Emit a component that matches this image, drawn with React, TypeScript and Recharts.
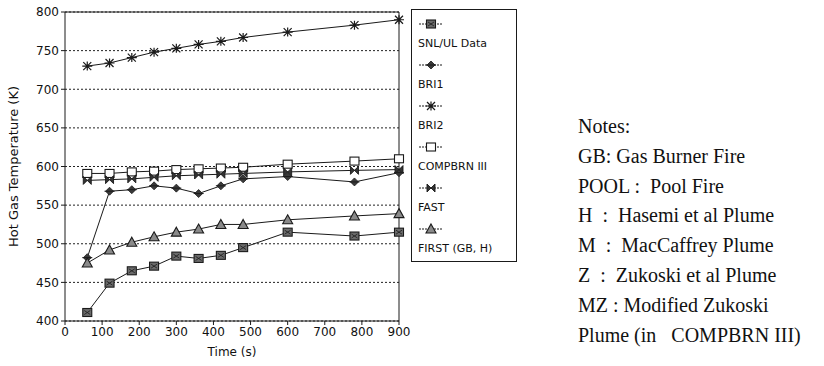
import {
  CartesianGrid,
  Label,
  Legend,
  Line,
  LineChart,
  ReferenceLine,
  XAxis,
  YAxis,
} from 'recharts';

// time in seconds, hot gas layer temperature in K
const times = [60, 120, 180, 240, 300, 360, 420, 480, 600, 780, 900];
const snlUl = [411, 449, 465, 471, 484, 481, 485, 495, 515, 510, 515];
const bri1 = [482, 568, 570, 575, 572, 565, 575, 584, 587, 580, 592];
const bri2 = [730, 734, 741, 748, 753, 758, 762, 767, 774, 783, 790];
const compbrn = [591, 591, 593, 594, 596, 597, 598, 599, 603, 607, 610];
const fast = [582, 583, 584, 586, 588, 589, 590, 591, 593, 595, 596];
const first = [475, 492, 502, 509, 515, 519, 525, 525, 531, 536, 539];

const xTicks = [0, 100, 200, 300, 400, 500, 600, 700, 800, 900];
const yTicks = [400, 450, 500, 550, 600, 650, 700, 750, 800];

const notes = [
  'Notes:',
  'GB: Gas Burner Fire',
  'POOL :  Pool Fire',
  'H  :  Hasemi et al Plume',
  'M  :  MacCaffrey Plume',
  'Z  :  Zukoski et al Plume',
  'MZ : Modified Zukoski',
  'Plume (in   COMPBRN III)',
];

type MarkerKind = 'hatchSquare' | 'diamond' | 'asterisk' | 'openSquare' | 'bowtie' | 'triangle';

const series: { key: string; name: string; values: number[]; marker: MarkerKind }[] = [
  { key: 'snl', name: 'SNL/UL Data', values: snlUl, marker: 'hatchSquare' },
  { key: 'bri1', name: 'BRI1', values: bri1, marker: 'diamond' },
  { key: 'bri2', name: 'BRI2', values: bri2, marker: 'asterisk' },
  { key: 'compbrn', name: 'COMPBRN III', values: compbrn, marker: 'openSquare' },
  { key: 'fast', name: 'FAST', values: fast, marker: 'bowtie' },
  { key: 'first', name: 'FIRST (GB, H)', values: first, marker: 'triangle' },
];

const data = times.map((time, i) => {
  const row: Record<string, number> = { time };
  series.forEach((s) => {
    row[s.key] = s.values[i];
  });
  return row;
});

const ink = '#1a1a1a';

function Marker({ kind, x, y }: { kind: MarkerKind; x: number; y: number }) {
  switch (kind) {
    case 'hatchSquare':
      return (
        <g>
          <rect x={x - 4.5} y={y - 4} width={9} height={8} fill="#6b6b6b" stroke={ink} strokeWidth={1.1} />
          <path d={`M${x - 3} ${y - 2}L${x + 3} ${y + 2}M${x - 3} ${y + 2}L${x + 3} ${y - 2}`} stroke="#222" strokeWidth={0.9} />
        </g>
      );
    case 'diamond':
      return (
        <g>
          <path d={`M${x} ${y - 4}L${x + 4} ${y}L${x} ${y + 4}L${x - 4} ${y}Z`} fill="#3a3a3a" stroke={ink} strokeWidth={0.8} />
          <path d={`M${x - 5} ${y}H${x + 5}`} stroke={ink} strokeWidth={1} />
        </g>
      );
    case 'asterisk':
      return (
        <path
          d={`M${x - 4} ${y - 4}L${x + 4} ${y + 4}M${x - 4} ${y + 4}L${x + 4} ${y - 4}M${x - 5} ${y}H${x + 5}M${x} ${y - 4.5}V${y + 4.5}`}
          stroke={ink}
          strokeWidth={1.2}
          fill="none"
        />
      );
    case 'openSquare':
      return <rect x={x - 4.5} y={y - 4} width={9} height={8} fill="#fff" stroke={ink} strokeWidth={1.1} />;
    case 'bowtie':
      return (
        <path
          d={`M${x - 4} ${y - 4}L${x} ${y}L${x - 4} ${y + 4}ZM${x + 4} ${y - 4}L${x} ${y}L${x + 4} ${y + 4}Z`}
          fill="#333"
          stroke={ink}
          strokeWidth={0.9}
        />
      );
    case 'triangle':
      return <path d={`M${x} ${y - 5}L${x + 5} ${y + 4}L${x - 5} ${y + 4}Z`} fill="#8a8a8a" stroke={ink} strokeWidth={1.1} />;
  }
}

// legend keeps the series order, one sample line above each name
function LegendBox({ payload }: { payload?: any[] }) {
  const shown = series.filter((s) => (payload ?? []).some((entry) => entry.dataKey === s.key));
  return (
    <div
      style={{
        position: 'relative',
        width: 104,
        height: 251,
        border: `1px solid ${ink}`,
        background: '#fff',
      }}
    >
      {shown.map((s, i) => (
        <div key={s.key}>
          <svg style={{ position: 'absolute', left: 6, top: 7 + i * 41 }} width={26} height={14}>
            <line x1={1} y1={7} x2={25} y2={7} stroke={ink} strokeWidth={1} strokeDasharray="2 1" />
            <Marker kind={s.marker} x={13} y={7} />
          </svg>
          <div
            style={{
              position: 'absolute',
              left: 6,
              top: 27 + i * 41,
              fontSize: 11,
              color: '#111',
              whiteSpace: 'nowrap',
            }}
          >
            {s.name}
          </div>
        </div>
      ))}
    </div>
  );
}

export default function App() {
  return (
    <div
      style={{
        position: 'absolute',
        left: 0,
        top: 0,
        width: 824,
        height: 366,
        background: '#fff',
        fontFamily: '"DejaVu Sans", sans-serif',
      }}
    >
      <LineChart width={420} height={366} data={data} margin={{ top: 12, right: 21, bottom: 0, left: 0 }}>
        <CartesianGrid vertical={false} stroke="#222" strokeDasharray="2 2" />
        <XAxis
          dataKey="time"
          type="number"
          domain={[0, 900]}
          ticks={xTicks}
          height={45}
          tickSize={4}
          stroke={ink}
          tick={{ fill: '#111', fontSize: 12 }}
        >
          <Label value="Time (s)" position="insideBottom" offset={10} fill="#111" fontSize={12} />
        </XAxis>
        <YAxis
          type="number"
          domain={[400, 800]}
          ticks={yTicks}
          width={65}
          tickSize={4}
          stroke={ink}
          tick={{ fill: '#111', fontSize: 12 }}
        >
          <Label
            value="Hot Gas Temperature (K)"
            angle={-90}
            position="insideLeft"
            offset={13}
            fill="#111"
            fontSize={13}
            style={{ textAnchor: 'middle' }}
          />
        </YAxis>
        <ReferenceLine y={800} stroke={ink} />
        <ReferenceLine x={900} stroke={ink} />
        {series.map((s) => (
          <Line
            key={s.key}
            dataKey={s.key}
            name={s.name}
            stroke={ink}
            strokeWidth={1}
            isAnimationActive={false}
            dot={(p: any) => <Marker key={`${s.key}-${p.index}`} kind={s.marker} x={p.cx} y={p.cy} />}
          />
        ))}
        <Legend
          layout="horizontal"
          verticalAlign="middle"
          align="center"
          content={(props: any) => <LegendBox payload={props.payload} />}
          wrapperStyle={{ left: 411, top: 9, width: 106, height: 253 }}
        />
      </LineChart>
      <div
        style={{
          position: 'absolute',
          left: 578,
          top: 112,
          fontFamily: '"Liberation Serif", serif',
          fontSize: 20,
          lineHeight: '29.8px',
          color: '#111',
          whiteSpace: 'pre',
        }}
      >
        {notes.map((line) => (
          <div key={line}>{line}</div>
        ))}
      </div>
    </div>
  );
}
